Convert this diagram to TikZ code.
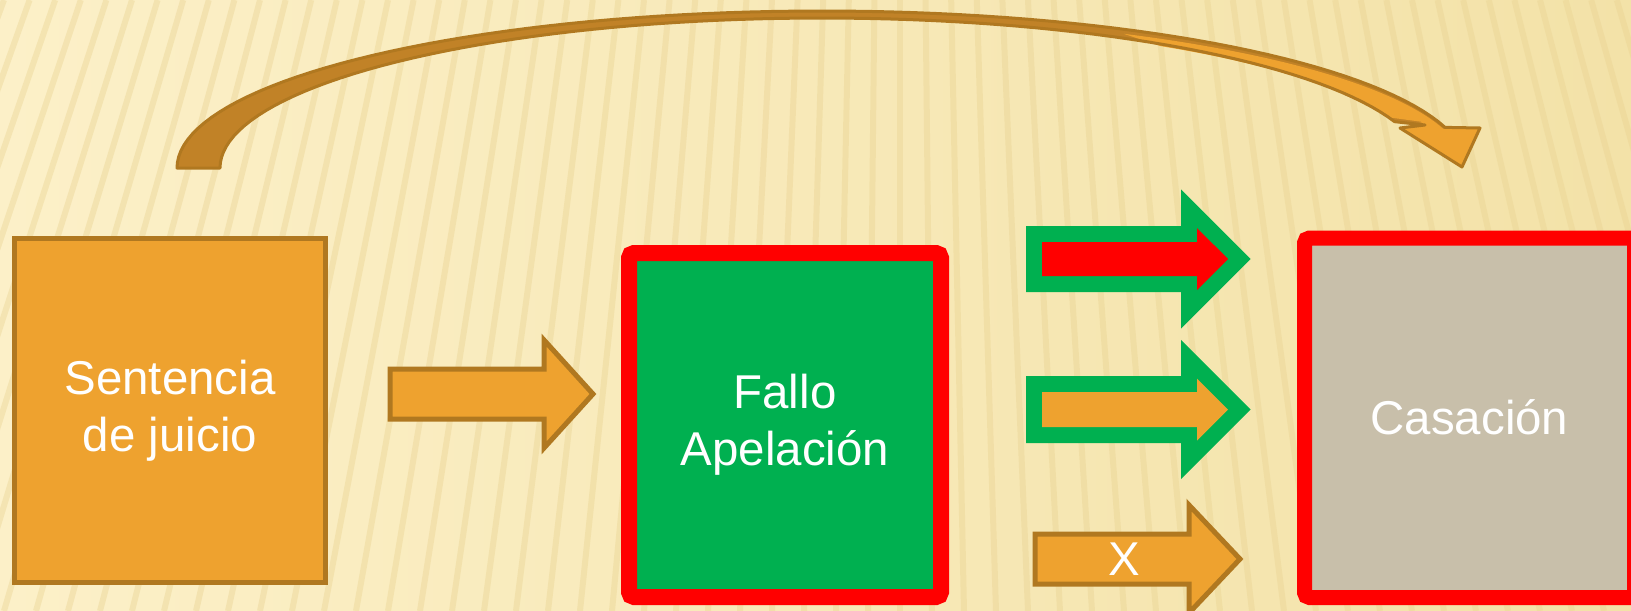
\documentclass[tikz,border=0pt]{standalone}
\usepackage{fontspec}
\setmainfont{Liberation Sans}
\definecolor{bgl}{HTML}{FCF0C8}
\definecolor{bgd}{HTML}{F3E2A8}
\definecolor{strp}{HTML}{E9D291}
\definecolor{org}{HTML}{EEA22F}
\definecolor{brn}{HTML}{B07820}
\definecolor{curvebrn}{HTML}{C18227}
\definecolor{grn}{HTML}{00B050}
\definecolor{gris}{HTML}{C8BFAA}

% block arrow: style, tail x, mid y, head base x, half shaft, half head, tip x
\newcommand\blockarrow[7]{\path[#1] (#2,#3-#5) -- (#4,#3-#5) -- (#4,#3-#6) -- (#7,#3)
  -- (#4,#3+#6) -- (#4,#3+#5) -- (#2,#3+#5) -- cycle;}
% curved arrow: two half ellipses round (822,168)
\newcommand\bendoutline{plot[domain=180:15,samples=80] ({822+645*cos(\x)},{168-157*sin(\x)})
  -- (1480,128) -- (1462,167) -- (1400,128) -- (1425,125)
  -- plot[domain=18:180,samples=80] ({822+602*cos(\x)},{168-150*sin(\x)}) -- cycle}

\begin{document}
\begin{tikzpicture}[x=0.1mm,y=-0.1mm,
  box/.style={draw,align=center,text=white,inner sep=0pt,font=\fontsize{13.5}{16.2}\selectfont},
  plainbox/.style={box,fill=org,draw=brn,line width=0.5mm},
  redbox/.style={box,draw=red,line width=1.6mm,rounded corners=0.5mm}]
\useasboundingbox (0,0) rectangle (1631,611);
\clip (0,0) rectangle (1631,611);
\shade[left color=bgl,right color=bgd] (0,0) rectangle (1631,611);
\foreach \b in {-220,-188,...,1860}
  \draw[strp,line width=0.6mm,opacity=0.4] (\b,611) -- ({\b+0.2*(900-\b)},0);

% boxes
\node[plainbox,minimum width=31.1mm,minimum height=34.4mm] (sentencia) at (170,410.5) {Sentencia\\de juicio};
\node[redbox,fill=grn,minimum width=31.2mm,minimum height=34.4mm] (fallo) at (785,425) {Fallo\\Apelación};
\node[redbox,fill=gris,line width=1.5mm,minimum width=33mm,minimum height=35.95mm] (casacion) at (1469.5,417.75) {Casación};

% straight arrows
\blockarrow{fill=org,draw=brn,line width=0.5mm}{390}{394}{544}{25}{54}{593}
\blockarrow{fill=red,preaction={draw=grn,line width=3.2mm}}{1042}{259}{1197}{17}{31}{1228}
\blockarrow{fill=org,preaction={draw=grn,line width=3.2mm}}{1042}{409.5}{1197}{17.5}{31}{1228}
\blockarrow{fill=org,draw=brn,line width=0.5mm}{1035}{559}{1189}{25}{54}{1240}
\node[text=white,font=\fontsize{13.5}{16.2}\selectfont] (cross) at (1124,559) {X};

% curved arrow over the top
\fill[curvebrn] \bendoutline;
\fill[org] plot[domain=62:15,samples=40] ({822+643*cos(\x)},{168-152*sin(\x)})
  -- (1480,128) -- (1462,167) -- (1400,128) -- (1423,122)
  -- plot[domain=20:56,samples=30] ({822+606*cos(\x)},{168-147*sin(\x)}) -- cycle;
\draw[brn,line width=0.3mm,line join=round] \bendoutline;
\end{tikzpicture}
\end{document}
